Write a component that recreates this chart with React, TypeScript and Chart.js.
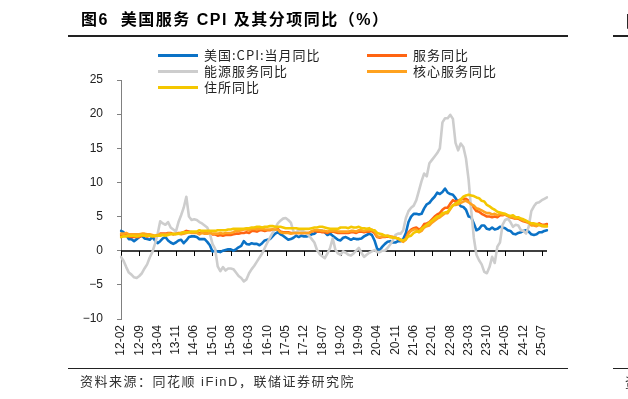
import React, { useEffect, useRef } from 'react';
import { Chart, registerables } from 'chart.js';

Chart.register(...registerables);

// ---------- categories (monthly, 2012-02 .. 2025-09) ----------
const START_YEAR = 2012;
const START_MONTH = 2;
const N_MONTHS = 164;
const months: string[] = [];
for (let k = 0; k < N_MONTHS; k++) {
  const m0 = START_MONTH - 1 + k;
  const y = START_YEAR + Math.floor(m0 / 12);
  const m = (m0 % 12) + 1;
  months.push(`${String(y % 100).padStart(2, '0')}-${String(m).padStart(2, '0')}`);
}
const LABEL_STEP = 7;

// ---------- series (YoY, %) ----------
const cpi = [
  2.9, 2.7, 2.3, 1.7, 1.7, 1.4, 1.7, 2.0, 2.2, 1.8, 1.7,
  1.6, 2.0, 1.5, 1.1, 1.4, 1.8, 2.0, 1.5, 1.2, 1.0, 1.2, 1.5,
  1.6, 1.1, 1.5, 2.0, 2.1, 2.1, 2.0, 1.7, 1.7, 1.7, 1.3, 0.8,
  -0.1, 0.0, -0.1, -0.2, 0.0, 0.1, 0.2, 0.2, 0.0, 0.2, 0.5, 0.7,
  1.4, 1.0, 0.9, 1.1, 1.0, 1.0, 0.8, 1.1, 1.5, 1.6, 1.7, 2.1,
  2.5, 2.7, 2.4, 2.2, 1.9, 1.6, 1.7, 1.9, 2.2, 2.0, 2.2, 2.1,
  2.1, 2.2, 2.4, 2.5, 2.8, 2.9, 2.9, 2.7, 2.3, 2.5, 2.2, 1.9,
  1.6, 1.5, 1.9, 2.0, 1.8, 1.6, 1.8, 1.7, 1.7, 1.8, 2.1, 2.3,
  2.5, 2.3, 1.5, 0.3, 0.1, 0.6, 1.0, 1.3, 1.4, 1.2, 1.2, 1.4,
  1.4, 1.7, 2.6, 4.2, 5.0, 5.4, 5.4, 5.3, 5.4, 6.2, 6.8, 7.0,
  7.5, 7.9, 8.5, 8.3, 8.6, 9.1, 8.5, 8.3, 8.2, 7.7, 7.1, 6.5,
  6.4, 6.0, 5.0, 4.9, 4.0, 3.0, 3.2, 3.7, 3.7, 3.2, 3.1, 3.4,
  3.1, 3.2, 3.5, 3.4, 3.3, 3.0, 2.9, 2.5, 2.4, 2.6, 2.7, 2.9,
  3.0, 2.8, 2.4, 2.3, 2.4, 2.7, 2.7, 2.9, 3.0,
];

const services = [
  2.3, 2.3, 2.3, 2.1, 2.0, 2.0, 2.0, 2.0, 2.2, 2.2, 2.1,
  2.2, 2.2, 2.1, 2.3, 2.5, 2.5, 2.5, 2.6, 2.6, 2.4, 2.5, 2.6,
  2.6, 2.7, 2.9, 2.8, 2.7, 2.7, 2.7, 2.5, 2.7, 2.6, 2.6, 2.6,
  2.4, 2.4, 2.2, 2.3, 2.2, 2.3, 2.3, 2.3, 2.4, 2.5, 2.5, 2.6,
  2.6, 2.7, 2.6, 2.9, 2.9, 2.8, 3.0, 3.0, 2.9, 3.0, 3.0, 3.1,
  3.1, 3.2, 2.8, 2.7, 2.7, 2.7, 2.6, 2.6, 2.6, 2.6, 2.6, 2.6,
  2.6, 2.6, 2.8, 2.9, 2.8, 2.8, 2.7, 2.7, 2.6, 2.8, 2.8, 2.7,
  2.6, 2.6, 2.6, 2.6, 2.6, 2.7, 2.7, 2.6, 2.8, 2.8, 2.7, 2.8,
  2.8, 2.9, 2.6, 2.0, 1.9, 2.0, 2.0, 2.1, 2.0, 2.0, 1.9, 1.8,
  1.6, 1.4, 1.8, 2.7, 3.1, 3.3, 3.4, 3.1, 3.3, 3.9, 4.0, 4.2,
  4.6, 5.0, 5.3, 5.5, 6.0, 6.3, 6.3, 6.9, 7.4, 7.2, 7.3, 7.5,
  7.6, 7.6, 7.3, 6.8, 6.3, 5.8, 5.7, 5.4, 5.2, 5.0, 5.0, 4.9,
  5.0, 4.9, 5.2, 5.2, 5.3, 5.1, 4.9, 4.8, 4.7, 4.7, 4.5, 4.3,
  4.2, 4.1, 3.8, 3.9, 3.8, 4.0, 3.8, 3.8, 3.9,
];

const energyServices = [
  -0.9, -1.5, -2.4, -3.2, -3.5, -3.9, -4.0, -3.7, -3.3, -2.6, -2.0,
  -1.0, -0.2, 1.0, 2.4, 4.3, 4.0, 3.8, 4.2, 3.4, 3.1, 2.8, 4.2,
  5.2, 6.3, 7.9, 5.0, 4.5, 4.6, 4.5, 4.2, 4.0, 3.7, 3.4, 2.5,
  1.0, 0.3, -2.3, -3.0, -2.4, -2.9, -2.6, -2.6, -2.7, -3.2, -3.7, -4.0,
  -4.5, -4.2, -3.3, -2.7, -2.2, -1.6, -1.0, -0.4, 0.4, 1.2, 1.9, 2.6,
  3.3, 4.0, 4.4, 4.7, 4.8, 4.5, 4.1, 2.8, 2.6, 3.1, 3.0, 2.8,
  2.5, 2.2, 1.7, 1.2, 0.1, -0.5, -0.8, -1.1, -0.4, 0.4, 1.8, 0.2,
  -0.4, -0.6, -0.1, -0.3, -0.6, -0.7, -0.4, 0.0, 0.4, -0.3, -0.9, -0.6,
  -0.3, -0.1, 0.1, -0.2, -0.2, 0.0, 0.0, 0.4, 0.9, 1.5, 2.3, 2.5,
  2.5, 3.0, 4.8, 5.8, 6.3, 6.6, 7.4, 8.8, 10.2, 11.3, 10.9, 12.8,
  13.3, 13.8, 14.3, 15.0, 18.8, 19.4, 19.4, 19.9, 19.3, 15.8, 14.7, 15.7,
  15.2, 13.5, 10.4, 5.9, 1.9, -0.6, -1.4, -2.0, -3.1, -3.3, -2.4, -0.9,
  -1.8, 0.6, 1.2, 3.8, 4.5, 4.7, 4.2, 3.5, 3.8, 3.7, 3.0, 2.9,
  2.5, 3.5, 5.8, 6.5, 7.0, 7.1, 7.4, 7.6, 7.8,
];

const coreServices = [
  2.5, 2.5, 2.6, 2.4, 2.4, 2.4, 2.4, 2.4, 2.5, 2.5, 2.4,
  2.4, 2.3, 2.2, 2.3, 2.4, 2.4, 2.4, 2.5, 2.5, 2.4, 2.5, 2.5,
  2.4, 2.5, 2.6, 2.7, 2.6, 2.6, 2.6, 2.4, 2.6, 2.5, 2.5, 2.6,
  2.5, 2.5, 2.5, 2.6, 2.5, 2.6, 2.6, 2.6, 2.7, 2.9, 2.9, 3.0,
  3.1, 3.1, 3.0, 3.2, 3.2, 3.1, 3.2, 3.2, 3.1, 3.1, 3.1, 3.1,
  3.1, 3.1, 2.7, 2.6, 2.6, 2.6, 2.5, 2.6, 2.6, 2.6, 2.6, 2.6,
  2.6, 2.6, 2.9, 3.0, 3.0, 3.0, 2.9, 2.9, 2.8, 2.9, 2.9, 2.9,
  2.8, 2.8, 2.8, 2.8, 2.8, 2.9, 2.9, 2.8, 3.0, 3.0, 2.9, 3.0,
  3.0, 3.1, 2.8, 2.1, 2.0, 2.1, 2.1, 2.2, 2.1, 2.0, 1.9, 1.8,
  1.5, 1.3, 1.6, 2.5, 2.9, 3.1, 3.1, 2.7, 2.9, 3.4, 3.6, 3.7,
  4.1, 4.4, 4.7, 4.9, 5.2, 5.5, 5.5, 6.1, 6.7, 6.7, 6.8, 7.0,
  7.2, 7.3, 7.1, 6.8, 6.6, 6.2, 6.1, 5.9, 5.7, 5.5, 5.5, 5.3,
  5.4, 5.2, 5.4, 5.3, 5.3, 5.1, 4.9, 4.9, 4.7, 4.8, 4.6, 4.4,
  4.3, 4.1, 3.7, 3.7, 3.6, 3.8, 3.6, 3.6, 3.6,
];

const shelter = [
  2.0, 2.1, 2.1, 2.2, 2.2, 2.2, 2.1, 2.2, 2.3, 2.2, 2.2,
  2.2, 2.1, 2.2, 2.2, 2.2, 2.3, 2.2, 2.3, 2.4, 2.5, 2.4, 2.5,
  2.6, 2.7, 2.7, 2.7, 2.8, 2.8, 2.8, 3.0, 2.9, 2.9, 2.9, 2.9,
  2.9, 2.9, 3.0, 3.0, 3.0, 3.0, 3.1, 3.1, 3.2, 3.2, 3.2, 3.2,
  3.2, 3.3, 3.3, 3.4, 3.4, 3.5, 3.5, 3.4, 3.5, 3.5, 3.6, 3.6,
  3.5, 3.5, 3.5, 3.4, 3.3, 3.3, 3.3, 3.3, 3.3, 3.2, 3.2, 3.2,
  3.2, 3.2, 3.3, 3.4, 3.4, 3.5, 3.5, 3.4, 3.3, 3.2, 3.2, 3.2,
  3.2, 3.4, 3.4, 3.4, 3.3, 3.5, 3.4, 3.4, 3.5, 3.3, 3.3, 3.2,
  3.3, 3.0, 3.0, 2.6, 2.5, 2.4, 2.2, 2.2, 2.0, 1.9, 1.9, 1.8,
  1.6, 1.5, 1.7, 2.1, 2.2, 2.6, 2.8, 2.8, 3.2, 3.5, 3.8, 4.1,
  4.4, 4.7, 5.0, 5.1, 5.5, 5.6, 5.7, 6.2, 6.6, 6.9, 7.1, 7.5,
  7.9, 8.1, 8.2, 8.1, 8.0, 7.8, 7.7, 7.3, 7.2, 6.7, 6.5, 6.2,
  6.0, 5.7, 5.6, 5.5, 5.4, 5.2, 5.1, 5.2, 4.9, 4.9, 4.7, 4.6,
  4.4, 4.2, 4.0, 4.0, 3.9, 3.8, 3.7, 3.6, 3.6,
];

const seriesNames = ['美国:CPI:当月同比', '服务同比', '能源服务同比', '核心服务同比', '住所同比'];
const seriesColors = ['#0B72C6', '#FF6412', '#CDCDCD', '#FFA21F', '#F4C700'];
const seriesData = [cpi, services, energyServices, coreServices, shelter];

const Y_MIN = -10;
const Y_MAX = 25;
const Y_STEP = 5;

const FONT_AXIS = '"Liberation Sans", Arial, sans-serif';
const FONT_CJK = '"Noto Sans CJK SC", "Liberation Sans", sans-serif';

const zeroAxisPlugin = {
  id: 'zeroAxis',
  beforeDatasetsDraw(chart: any) {
    const { ctx, chartArea, scales } = chart;
    const y0 = Math.round(scales.y.getPixelForValue(0));
    ctx.save();
    ctx.strokeStyle = '#000';
    ctx.lineWidth = 1.5;
    ctx.beginPath();
    ctx.moveTo(chartArea.left, y0);
    ctx.lineTo(chartArea.right, y0);
    ctx.stroke();
    ctx.lineWidth = 1;
    ctx.beginPath();
    for (let i = 0; i < months.length; i += LABEL_STEP) {
      const x = Math.round(scales.x.getPixelForValue(i)) + 0.5;
      ctx.moveTo(x, y0);
      ctx.lineTo(x, y0 + 5);
    }
    ctx.stroke();
    ctx.restore();
  },
};

// legend layout: [series index, sample left, row center y]
const legendLayout: Array<[number, number, number]> = [
  [0, 158, 55],
  [1, 367, 55],
  [2, 158, 71],
  [3, 367, 71],
  [4, 158, 87],
];

export default function App() {
  const ref = useRef<HTMLCanvasElement>(null);

  useEffect(() => {
    const canvas = ref.current;
    if (!canvas) return;
    const n = seriesData.length;
    const chart = new Chart(canvas, {
      type: 'line',
      data: {
        labels: months,
        datasets: seriesData.map((d, k) => ({
          label: seriesNames[k],
          data: d,
          borderColor: seriesColors[k],
          backgroundColor: seriesColors[k],
          borderWidth: 2.6,
          pointRadius: 0,
          tension: 0,
          borderJoinStyle: 'round' as const,
          borderCapStyle: 'round' as const,
          order: n - k,
        })),
      },
      options: {
        responsive: false,
        animation: false,
        devicePixelRatio: 1,
        layout: { padding: { top: 80, right: 81, bottom: 0, left: 0 } },
        plugins: { legend: { display: false }, tooltip: { enabled: false } },
        scales: {
          x: {
            type: 'category',
            offset: false,
            grid: { display: false, drawTicks: false },
            border: { display: false },
            ticks: {
              autoSkip: false,
              maxRotation: 90,
              minRotation: 90,
              padding: 6,
              color: '#222',
              font: { family: FONT_AXIS, size: 12 },
              callback: (_v: any, i: number) => (i % LABEL_STEP === 0 ? months[i] : null),
            },
            afterFit: (s: any) => {
              s.height = 80;
            },
          },
          y: {
            min: Y_MIN,
            max: Y_MAX,
            ticks: {
              stepSize: Y_STEP,
              padding: 14,
              color: '#222',
              font: { family: FONT_AXIS, size: 12 },
              callback: (v: any) => (Number(v) < 0 ? '\u2212' + Math.abs(Number(v)) : String(v)),
            },
            grid: { display: true, drawOnChartArea: false, drawTicks: true, tickLength: 4, color: '#808080', lineWidth: 1 },
            border: { display: true, color: '#808080', width: 1 },
            afterFit: (s: any) => {
              s.width = 121;
            },
          },
        },
      } as any,
      plugins: [zeroAxisPlugin],
    });
    return () => chart.destroy();
  }, []);

  const abs = (o: React.CSSProperties): React.CSSProperties => ({ position: 'absolute', ...o });

  return (
    <div style={{ position: 'fixed', left: 0, top: 0, width: 628, height: 399, background: '#fff', overflow: 'hidden' }}>
      <canvas ref={ref} width={628} height={399} style={{ position: 'absolute', left: 0, top: 0, width: 628, height: 399 }} />
      {/* title */}
      <div
        style={abs({
          left: 81,
          top: 10,
          fontFamily: '"Liberation Sans", "Noto Sans CJK SC", sans-serif',
          fontWeight: 700,
          fontSize: 16,
          lineHeight: '20px',
          letterSpacing: 1.5,
          whiteSpace: 'pre',
          color: '#000',
        })}
      >
        {'图6  美国服务 CPI 及其分项同比（%）'}
      </div>
      <div style={abs({ left: 68, top: 35, width: 500, height: 2, background: '#222' })} />
      {/* neighbouring figure edge */}
      <div
        style={abs({
          left: 626,
          top: 10,
          fontFamily: FONT_CJK,
          fontWeight: 700,
          fontSize: 16,
          lineHeight: '20px',
          whiteSpace: 'pre',
          color: '#000',
        })}
      >
        图
      </div>
      <div style={abs({ left: 613, top: 35, width: 15, height: 2, background: '#222' })} />
      {/* legend */}
      {legendLayout.map(([k, x, y]) => (
        <React.Fragment key={k}>
          <div style={abs({ left: x, top: y - 1.5, width: 40, height: 3, background: seriesColors[k] })} />
          <div
            style={abs({
              left: x + 46,
              top: y - 8,
              fontFamily: FONT_CJK,
              fontSize: 13,
              lineHeight: '16px',
              letterSpacing: 1,
              whiteSpace: 'pre',
              color: '#222',
            })}
          >
            {seriesNames[k]}
          </div>
        </React.Fragment>
      ))}
      {/* source */}
      <div style={abs({ left: 68, top: 368, width: 500, height: 1, background: '#222' })} />
      <div style={abs({ left: 613, top: 368, width: 15, height: 1, background: '#222' })} />
      <div
        style={abs({
          left: 80,
          top: 374,
          fontFamily: '"Liberation Sans", "Noto Sans CJK SC", sans-serif',
          fontSize: 13,
          lineHeight: '16px',
          letterSpacing: 1.5,
          whiteSpace: 'pre',
          color: '#333',
        })}
      >
        {'资料来源：同花顺 iFinD，联储证券研究院'}
      </div>
      <div
        style={abs({
          left: 625,
          top: 374,
          fontFamily: FONT_CJK,
          fontSize: 13,
          lineHeight: '16px',
          whiteSpace: 'pre',
          color: '#333',
        })}
      >
        资
      </div>
    </div>
  );
}
